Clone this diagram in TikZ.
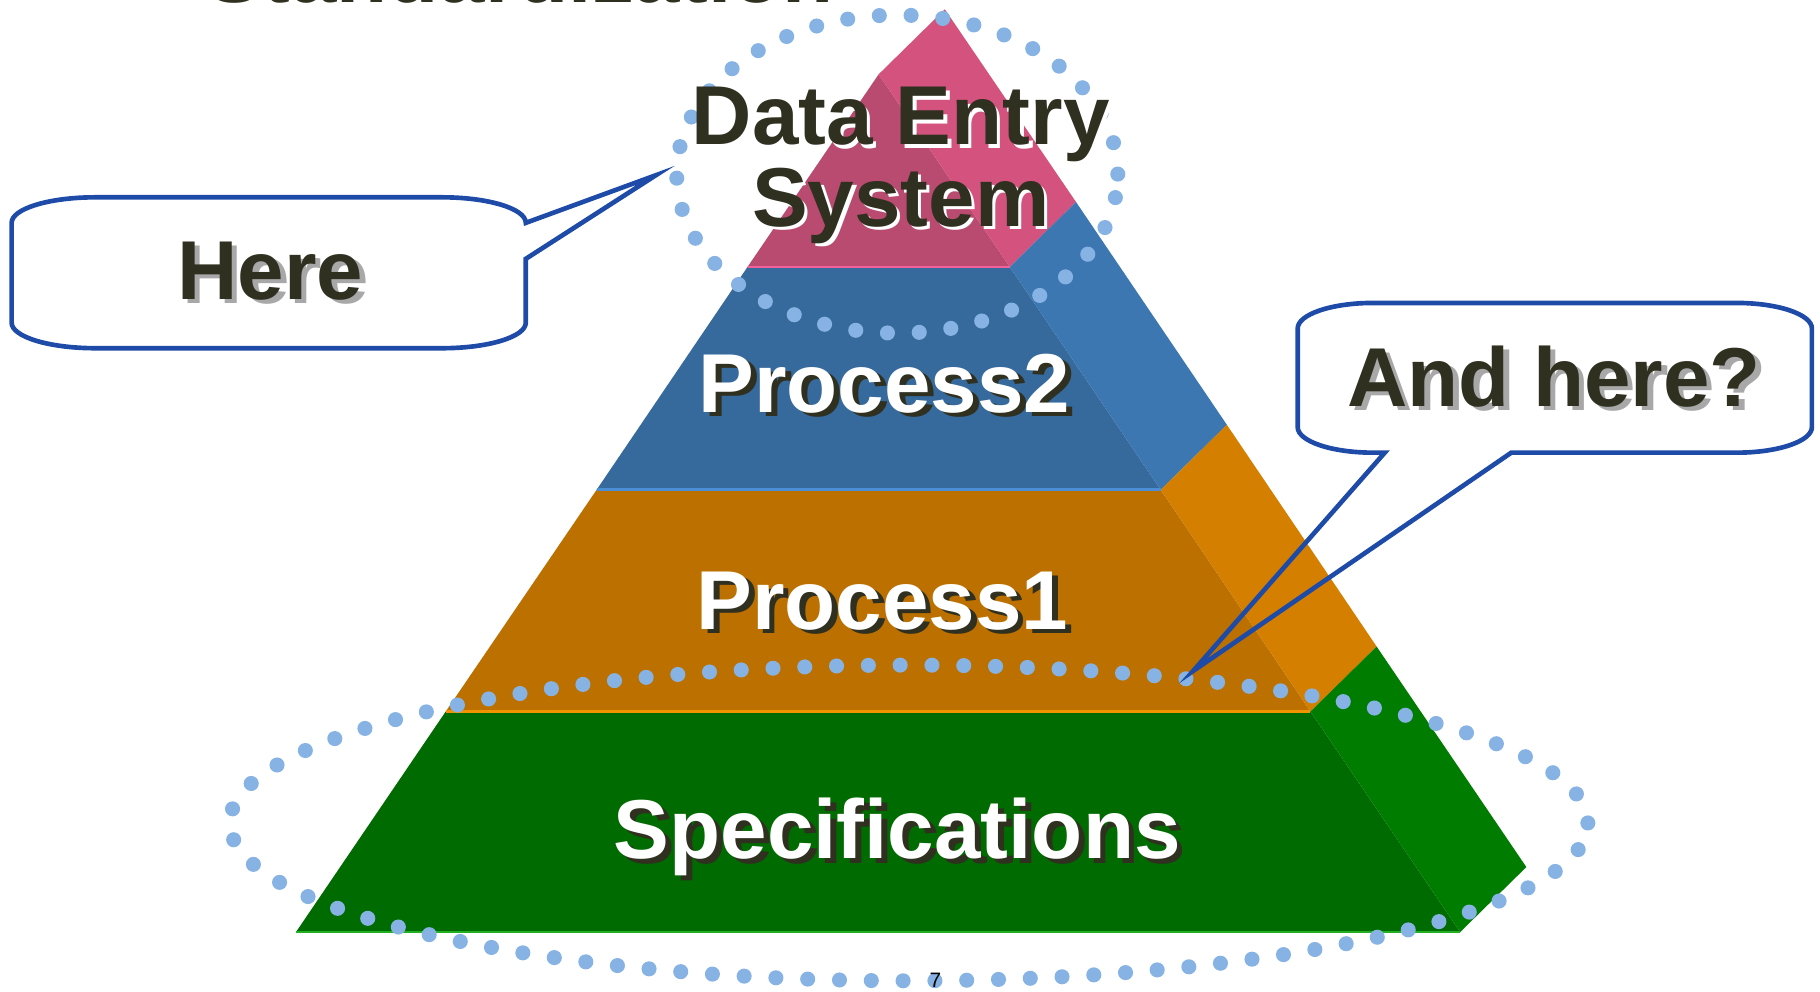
\documentclass[tikz,border=0pt]{standalone}
\usepackage{fontspec}
\setmainfont{Liberation Sans}
\definecolor{pinkF}{HTML}{B84B6F}
\definecolor{pinkR}{HTML}{D4537E}
\definecolor{pinkL}{HTML}{F0609A}
\definecolor{blueF}{HTML}{36699C}
\definecolor{blueR}{HTML}{3D77B1}
\definecolor{blueL}{HTML}{4A8FD6}
\definecolor{orangeF}{HTML}{BB7000}
\definecolor{orangeR}{HTML}{D47F00}
\definecolor{orangeL}{HTML}{F29400}
\definecolor{greenF}{HTML}{006B00}
\definecolor{greenR}{HTML}{007D00}
\definecolor{greenL}{HTML}{22B022}
\definecolor{dotc}{HTML}{86B3E3}
\definecolor{callc}{HTML}{1E4AA8}
\definecolor{olive}{HTML}{2F3020}
\definecolor{shgray}{HTML}{A8A8A8}
\newcommand{\mkshadow}[4]{\rlap{\kern#3\raisebox{-#4}{\color{#2}#1}}#1}
\begin{document}
\begin{tikzpicture}[x=0.5pt,y=0.5pt,
  big/.style={font=\fontsize{36}{32.5}\selectfont\bfseries, inner sep=0pt},
  dotline/.style={draw=dotc, line width=6.5pt, line cap=round, dash pattern=on 0pt off 13.7pt},
  callout/.style={draw=callc, line width=2pt, line join=miter},
  bandline/.style={line width=1.2pt}]
\useasboundingbox (0,0) rectangle (1568,-854);
\clip (0,0) rectangle (1568,-854);
% title cut off at the top
\node[big, text=olive, anchor=base] (title) at (448,-2) {Standardization};
% pyramid: pink
\fill[pinkF] (757,-64) -- (644,-230) -- (870,-230) -- cycle;
\fill[pinkR] (757,-64) -- (870,-230) -- (927,-174) -- (814,-8) -- cycle;
% blue
\fill[blueF] (644,-230) -- (514,-422) -- (1000,-422) -- (870,-230) -- cycle;
\fill[blueR] (870,-230) -- (1000,-422) -- (1057,-366) -- (927,-174) -- cycle;
% orange
\fill[orangeF] (514,-422) -- (384,-613) -- (1129,-613) -- (1000,-422) -- cycle;
\fill[orangeR] (1000,-422) -- (1129,-613) -- (1186,-557) -- (1057,-366) -- cycle;
% green
\fill[greenF] (384,-613) -- (255,-803) -- (1258,-803) -- (1129,-613) -- cycle;
\fill[greenR] (1129,-613) -- (1258,-803) -- (1315,-747) -- (1186,-557) -- cycle;
% band lines
\draw[bandline, pinkL] (644,-230) -- (870,-230);
\draw[bandline, blueL] (514,-422) -- (1000,-422);
\draw[bandline, orangeL] (384,-613) -- (1129,-613);
\draw[bandline, greenL] (255,-803) -- (1258,-803);
% dotted ellipses
\draw[dotline] (773,-150) ellipse[x radius=190, y radius=137];
\draw[dotline] (783,-709) ellipse[x radius=585, y radius=136];
% callouts
\coordinate (tipA) at (565,-151);
\coordinate (tipB) at (1028,-578);
\draw[callout] (82,-170) -- (381,-170) arc[start angle=90, end angle=0, x radius=72, y radius=22]
  -- (tipA) -- (453,-223) -- (453,-278) arc[start angle=0, end angle=-90, x radius=72, y radius=22]
  -- (82,-300) arc[start angle=270, end angle=180, x radius=72, y radius=22]
  -- (10,-192) arc[start angle=180, end angle=90, x radius=72, y radius=22] -- cycle;
\draw[callout] (1183,-261) -- (1496,-261) arc[start angle=90, end angle=0, x radius=65, y radius=22]
  -- (1561,-368) arc[start angle=0, end angle=-90, x radius=65, y radius=22]
  -- (1302,-390) -- (tipB) -- (1193,-390) -- (1183,-390)
  arc[start angle=270, end angle=180, x radius=65, y radius=22]
  -- (1118,-283) arc[start angle=180, end angle=90, x radius=65, y radius=22] -- cycle;
% texts
\node[big, text=olive, anchor=base, align=center] (des) at (776,-195)
  {\mkshadow{Data Entry}{white}{1.4pt}{1.5pt}\\\mkshadow{System}{white}{1.4pt}{1.5pt}};
\node[big, text=white, anchor=base] (p2) at (762,-355) {\mkshadow{Process2}{olive}{2.5pt}{2pt}};
\node[big, text=white, anchor=base] (p1) at (760,-542) {\mkshadow{Process1}{olive}{2.5pt}{2pt}};
\node[big, text=white, anchor=base] (spec) at (773,-740) {\mkshadow{Specifications}{olive}{2.5pt}{2pt}};
\node[big, text=olive, anchor=base] (here) at (233,-258) {\mkshadow{Here}{shgray}{2.3pt}{1.7pt}};
\node[big, text=olive, anchor=base] (andhere) at (1339,-350) {\mkshadow{And here?}{shgray}{2.3pt}{1.7pt}};
\node[font=\fontsize{9}{10}\selectfont, text=black, anchor=base, inner sep=0pt] (pg) at (806,-851) {7};
\end{tikzpicture}
\end{document}
